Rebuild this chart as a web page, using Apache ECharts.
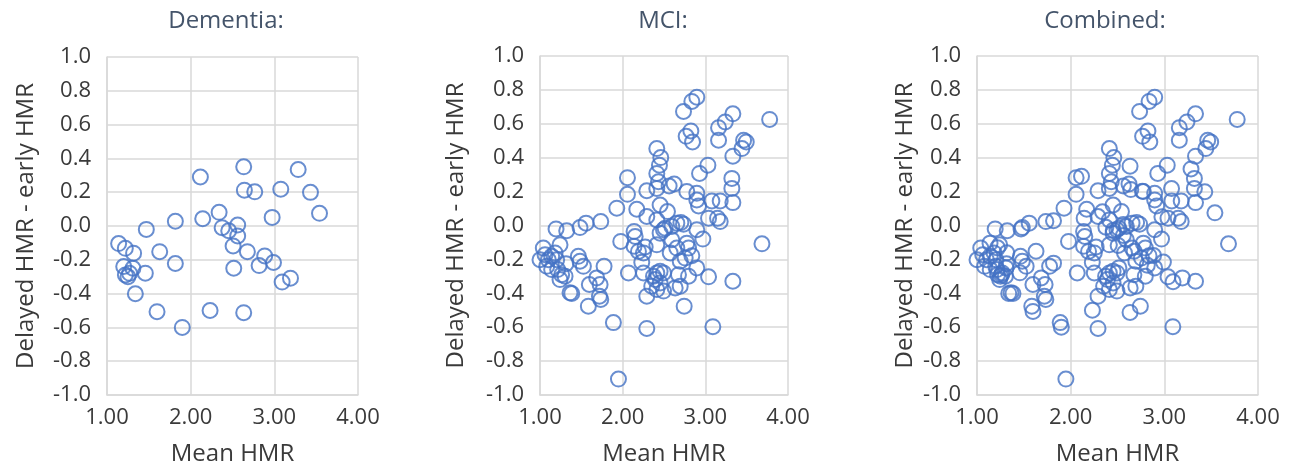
<!DOCTYPE html>
<html>
<head>
<meta charset="utf-8">
<script src="https://cdn.jsdelivr.net/npm/echarts@6/dist/echarts.min.js"></script>
<style>
  html, body { margin: 0; padding: 0; background: #ffffff; }
  #chart { width: 1292px; height: 471px; }
</style>
</head>
<body>
<div id="chart"></div>
<script>
// ---- data ----
const panelTitles = ['Dementia:', 'MCI:', 'Combined:'];
const xAxisName = 'Mean HMR';
const yAxisName = 'Delayed HMR - early HMR';
const xTickMin = 1, xTickMax = 4, xTickStep = 1;
const yTickMin = -1, yTickMax = 1, yTickStep = 0.2;

const dementiaPoints = [
  [2.634,0.35],[2.116,0.29],[3.285,0.334],[2.642,0.212],[2.766,0.202],[3.077,0.218],
  [3.432,0.199],[3.54,0.075],[2.974,0.051],[2.34,0.081],[2.144,0.043],[1.817,0.028],
  [1.47,-0.02],[2.376,-0.01],[2.455,-0.028],[2.562,0.006],[2.562,-0.059],[2.507,-0.118],
  [2.678,-0.152],[2.515,-0.25],[2.885,-0.177],[2.818,-0.234],[2.99,-0.216],[3.093,-0.332],
  [3.193,-0.309],[2.634,-0.513],[2.232,-0.5],[1.90,-0.6],[1.598,-0.507],[1.817,-0.222],
  [1.63,-0.152],[1.139,-0.104],[1.219,-0.132],[1.318,-0.161],[1.2,-0.24],[1.31,-0.25],
  [1.22,-0.29],[1.27,-0.28],[1.25,-0.30],[1.458,-0.279],[1.339,-0.401]
];

const mciPoints = [
  [2.897,0.757],[2.837,0.732],[2.736,0.673],[3.778,0.626],[3.333,0.659],[3.241,0.611],
  [3.160,0.577],[2.768,0.526],[2.825,0.558],[2.845,0.493],[3.160,0.503],[3.463,0.503],
  [3.495,0.493],[3.443,0.454],[3.333,0.409],[2.413,0.454],[2.461,0.401],[2.445,0.356],
  [2.413,0.307],[2.433,0.258],[3.031,0.356],[2.930,0.307],[2.058,0.282],[3.321,0.278],
  [3.321,0.219],[2.292,0.205],[2.413,0.219],[2.562,0.233],[2.623,0.245],[2.776,0.200],
  [2.058,0.184],[1.929,0.102],[2.171,0.096],[2.897,0.190],[2.897,0.151],[2.918,0.115],
  [3.079,0.145],[3.180,0.145],[3.333,0.135],[2.453,0.121],[2.542,0.082],[2.292,0.053],
  [2.413,0.033],[3.039,0.043],[3.148,0.043],[3.180,0.023],[1.735,0.023],[1.557,0.014],
  [1.484,-0.012],[2.514,-0.016],[2.595,-0.006],[2.655,0.014],[2.704,0.018],[2.736,0.008],
  [1.194,-0.020],[1.323,-0.031],[2.897,-0.025],[2.970,-0.080],[3.685,-0.108],[1.977,-0.094],
  [2.138,-0.035],[2.151,-0.065],[2.138,-0.123],[2.191,-0.153],[2.252,-0.162],[2.272,-0.127],
  [2.413,-0.114],[2.453,-0.045],[2.494,-0.025],[2.595,-0.084],[2.575,-0.162],[2.655,-0.133],
  [2.776,-0.104],[2.797,-0.133],[2.756,-0.192],[2.837,-0.178],[2.696,-0.211],[1.040,-0.133],
  [1.000,-0.202],[1.061,-0.172],[1.101,-0.202],[1.141,-0.182],[1.182,-0.162],[1.081,-0.241],
  [1.141,-0.260],[1.202,-0.202],[1.242,-0.114],[1.464,-0.182],[1.484,-0.211],[1.525,-0.241],
  [1.775,-0.241],[1.214,-0.260],[1.262,-0.290],[1.303,-0.299],[1.242,-0.319],[1.363,-0.397],
  [1.384,-0.401],[1.585,-0.476],[1.597,-0.348],[1.686,-0.309],[1.727,-0.348],[1.719,-0.417],
  [1.735,-0.436],[2.070,-0.280],[2.231,-0.217],[2.252,-0.280],[2.373,-0.299],[2.413,-0.280],
  [2.453,-0.270],[2.494,-0.280],[2.393,-0.319],[2.453,-0.339],[2.352,-0.358],[2.413,-0.378],
  [2.494,-0.387],[2.292,-0.417],[2.675,-0.290],[2.797,-0.299],[2.696,-0.358],[2.635,-0.368],
  [3.039,-0.303],[3.333,-0.329],[2.744,-0.476],[3.091,-0.597],[2.292,-0.607],[1.888,-0.573],
  [1.949,-0.906],[2.897,-0.250],[1.315,-0.225]
];

const combinedPoints = dementiaPoints.concat(mciPoints);
const panelData = [dementiaPoints, mciPoints, combinedPoints];

// ---- layout / style ----
const FONT = '"Open Sans", "Liberation Sans", sans-serif';
const grids = [
  { left: 107, top: 57, width: 251, height: 339, yGap: 69, titleX: 226 },
  { left: 540, top: 56, width: 248, height: 341, yGap: 72, titleX: 663 },
  { left: 977, top: 56, width: 281, height: 343, yGap: 60, titleX: 1105 }
];
const gridColor = '#D9D9D9';
const textColor = '#3A3A3A';
const markerColor = '#4472C4';

const option = {
  animation: false,
  backgroundColor: '#ffffff',
  graphic: grids.map((g, i) => ({
    type: 'text',
    x: g.titleX,
    y: 21,
    style: {
      text: panelTitles[i],
      fill: '#44546A',
      font: '24px ' + FONT,
      textAlign: 'center',
      textVerticalAlign: 'middle'
    }
  })),
  grid: grids.map(g => ({ left: g.left, top: g.top, width: g.width, height: g.height, containLabel: false })),
  xAxis: grids.map((g, i) => ({
    type: 'value',
    gridIndex: i,
    min: xTickMin, max: xTickMax, interval: xTickStep,
    name: xAxisName,
    nameLocation: 'middle',
    nameGap: 47,
    nameTextStyle: { fontFamily: FONT, fontSize: 24, color: textColor },
    axisLine: { show: true, onZero: false, lineStyle: { color: gridColor, width: 1.5 } },
    axisTick: { show: false },
    axisLabel: { fontFamily: FONT, fontSize: 22, color: textColor, margin: 12,
                 formatter: v => v.toFixed(2) },
    splitLine: { show: true, lineStyle: { color: gridColor, width: 1.5 } }
  })),
  yAxis: grids.map((g, i) => ({
    type: 'value',
    gridIndex: i,
    min: yTickMin, max: yTickMax, interval: yTickStep,
    name: yAxisName,
    nameLocation: 'middle',
    nameGap: g.yGap,
    nameTextStyle: { fontFamily: FONT, fontSize: 24, color: textColor },
    axisLine: { show: true, onZero: false, lineStyle: { color: gridColor, width: 1.5 } },
    axisTick: { show: false },
    axisLabel: { fontFamily: FONT, fontSize: 22, color: textColor, margin: 16,
                 formatter: v => v.toFixed(1) },
    splitLine: { show: true, lineStyle: { color: gridColor, width: 1.5 } }
  })),
  series: panelData.map((d, i) => ({
    type: 'scatter',
    xAxisIndex: i,
    yAxisIndex: i,
    data: d,
    symbol: 'circle',
    symbolSize: 15,
    itemStyle: { color: 'rgba(0,0,0,0)', borderColor: markerColor, borderWidth: 2 },
    emphasis: { disabled: true }
  }))
};

const chart = echarts.init(document.getElementById('chart'), null, { renderer: 'canvas' });
chart.setOption(option);
</script>
</body>
</html>
